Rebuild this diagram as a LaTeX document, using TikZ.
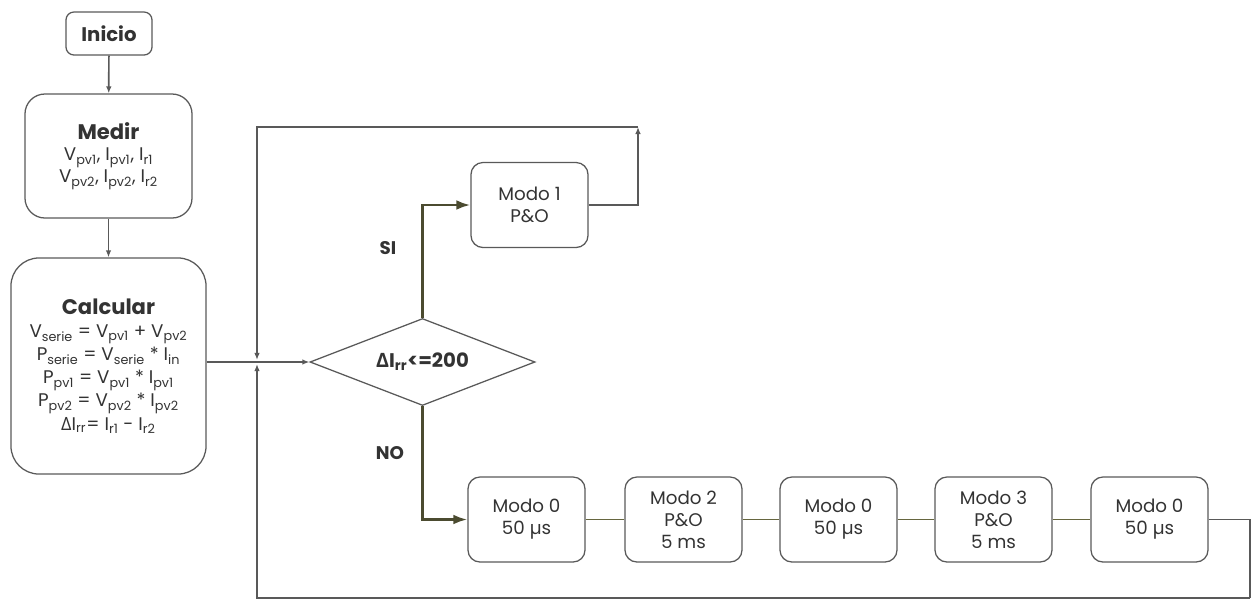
\documentclass[tikz,border=0pt]{standalone}
\usepackage{fontspec}
\setmainfont{Poppins}
\newfontfamily\griega{Open Sans}
\usetikzlibrary{arrows.meta, positioning, shapes.geometric}

\definecolor{borde}{HTML}{595959}
\definecolor{texto}{HTML}{333333}
\definecolor{oliva}{HTML}{4B4B30}
\definecolor{olivaclaro}{HTML}{66663F}
\newcommand{\Dl}{{\griega\char"0394}}
\newcommand{\sub}[1]{\textsubscript{#1}}

\tikzset{
  caja/.style={draw=borde, line width=0.9pt, rounded corners=0.3cm, align=center,
               text=texto, font=\fontsize{13}{15.6}\selectfont, minimum width=2.925cm,
               minimum height=2.125cm, inner sep=2pt},
  decision/.style={draw=borde, line width=0.9pt, diamond, aspect=2.59, inner sep=0pt,
                   minimum width=5.625cm, minimum height=2.175cm, text=texto,
                   font=\bfseries\fontsize{14}{16}\selectfont},
  flecha/.style={draw=borde, line width=1.2pt, -{Latex[length=5pt,width=4pt]}},
  rama/.style={draw=oliva, line width=1.8pt, -{Latex[length=10pt,width=7pt]}},
  union/.style={draw=olivaclaro, line width=1.4pt},
  retorno/.style={draw=borde, line width=1.4pt},
  etiqueta/.style={text=texto, font=\bfseries\fontsize{13}{15}\selectfont}
}

\begin{document}
\begin{tikzpicture}[x=0.025cm, y=-0.025cm]
  \useasboundingbox (0,0) rectangle (1258,601);

  % bloques de la izquierda
  \node[caja, minimum width=2.15cm, minimum height=1.075cm, rounded corners=0.2cm,
        font=\bfseries\fontsize{14}{16}\selectfont] (inicio) at (109,33.5) {Inicio};
  \node[caja, minimum width=4.175cm, minimum height=3.1cm, rounded corners=0.5cm]
        (medir) at (108.5,156)
        {{\bfseries\fontsize{15}{20}\selectfont Medir}\\
         V\sub{pv1}, I\sub{pv1}, I\sub{r1}\\
         V\sub{pv2}, I\sub{pv2}, I\sub{r2}};
  \node[caja, minimum width=4.875cm, minimum height=5.4cm, rounded corners=0.7cm,
        font=\fontsize{13}{16.5}\selectfont]
        (calcular) at (108.5,366)
        {{\bfseries\fontsize{15}{17}\selectfont Calcular}\\
         V\sub{serie} = V\sub{pv1} + V\sub{pv2}\\
         P\sub{serie} = V\sub{serie} * I\sub{in}\\
         P\sub{pv1} = V\sub{pv1} * I\sub{pv1}\\
         P\sub{pv2} = V\sub{pv2} * I\sub{pv2}\\
         \Dl I\sub{rr}= I\sub{r1} - I\sub{r2}};

  % decision y modos
  \node[decision] (dec) at (422.5,362) {{\griega\bfseries\char"0394}I\sub{rr}<=200};
  \node[caja] (modo1) at (529.5,205) {Modo 1\\P\&O};
  \node[caja] (m0a) at (526.5,519.5) {Modo 0\\50 µs};
  \node[caja] (m2)  at (683.5,519.5) {Modo 2\\P\&O\\5 ms};
  \node[caja] (m0b) at (838.5,519.5) {Modo 0\\50 µs};
  \node[caja] (m3)  at (993.5,519.5) {Modo 3\\P\&O\\5 ms};
  \node[caja] (m0c) at (1149.5,519.5) {Modo 0\\50 µs};

  \node[etiqueta] (si) at (388,248) {SI};
  \node[etiqueta] (no) at (390,453) {NO};

  % puntos de paso del lazo
  \coordinate (cruce) at (257,362);
  \coordinate (esqsup) at (638,127);
  \coordinate (esqizq) at (257,127);
  \coordinate (esqinf) at (1250,598);
  \coordinate (esqabajo) at (257,598);

  % conectores
  \draw[flecha] (inicio) -- (medir);
  \draw[flecha] (medir) -- (calcular);
  \draw[flecha] (calcular.east |- cruce) -- (dec.west);
  \draw[rama] (dec.north) |- (modo1.west);
  \draw[rama] (dec.south) |- (m0a.west);
  \draw[union] (m0a) -- (m2);
  \draw[union] (m2) -- (m0b);
  \draw[union] (m0b) -- (m3);
  \draw[union] (m3) -- (m0c);

  % lazo de retorno
  \draw[retorno, -{Latex[length=5pt,width=4pt]}] (modo1.east) -| (esqsup);
  \draw[retorno, -{Latex[length=5pt,width=4pt]}, shorten >=1.5pt]
        (esqsup) -- (esqizq) -- (cruce);
  \draw[retorno] (m0c.east) -| (esqinf);
  \draw[retorno, -{Latex[length=5pt,width=4pt]}, shorten >=1.5pt]
        (esqinf) -- (esqabajo) -- (cruce);
\end{tikzpicture}
\end{document}
